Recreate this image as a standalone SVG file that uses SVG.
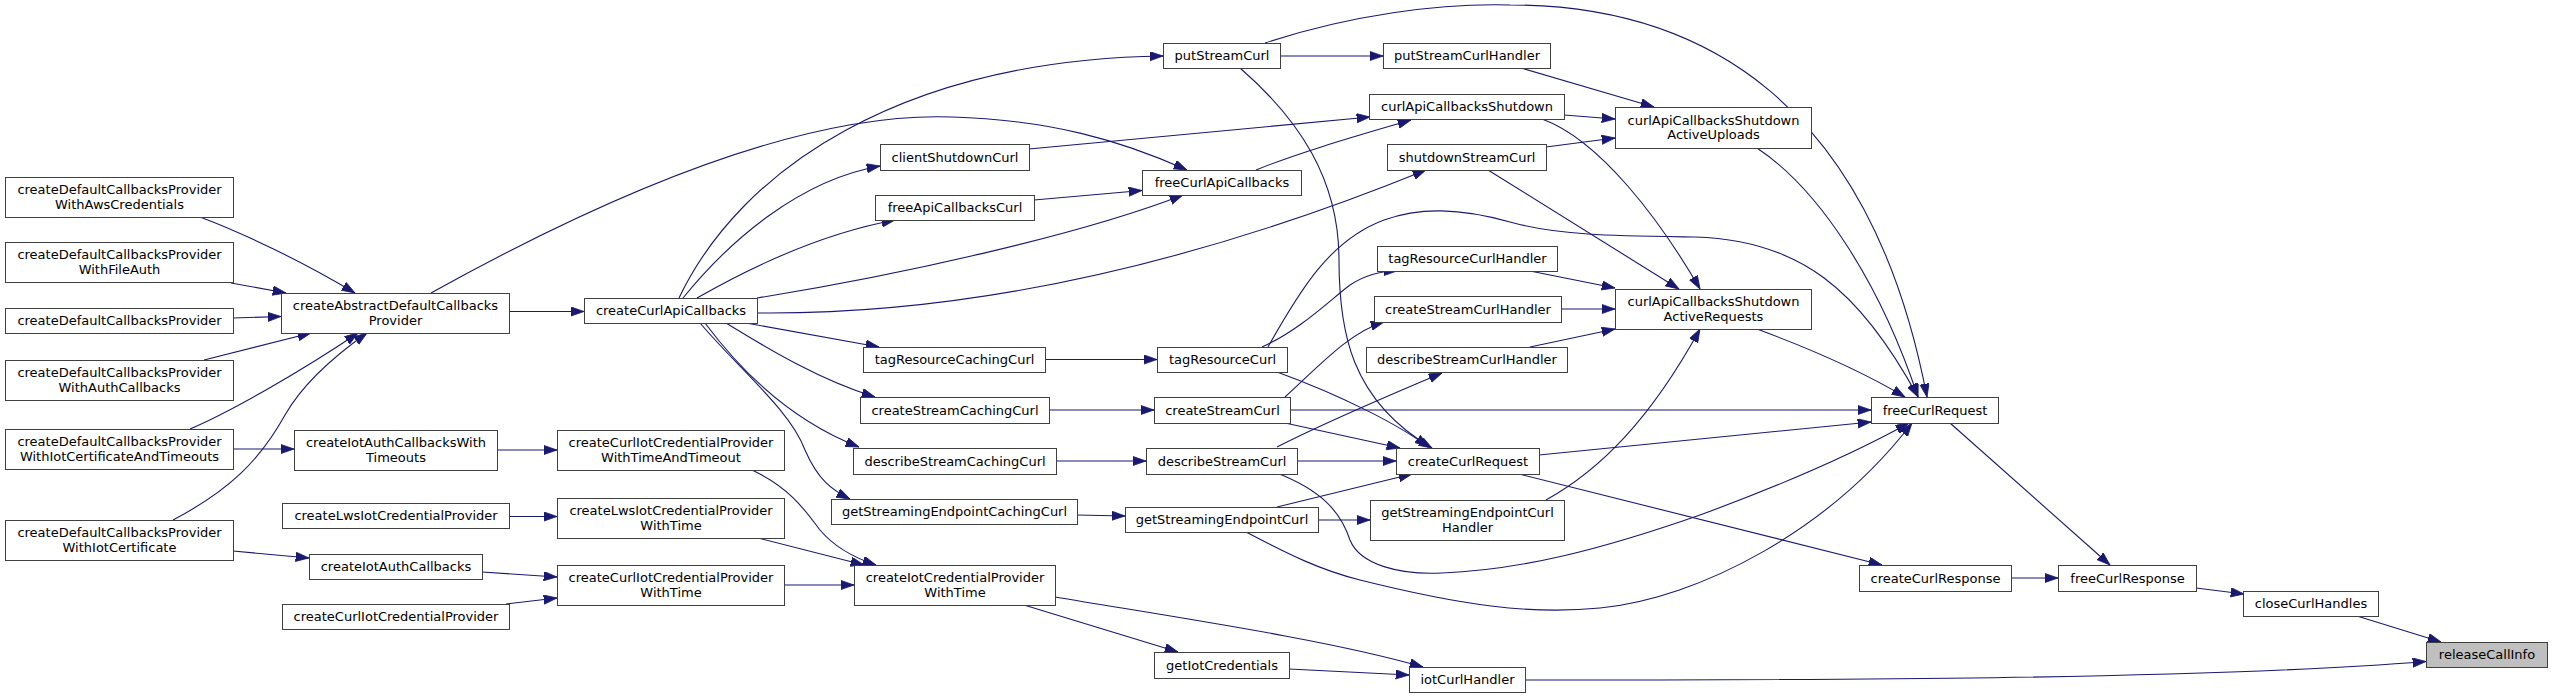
<svg xmlns="http://www.w3.org/2000/svg" width="2552" height="698" viewBox="0 0 2552 698">
<style>
rect.n{fill:#fff;stroke:#404040;stroke-width:1}
rect.f{fill:#bfbfbf;stroke:#404040;stroke-width:1}
text{font-family:"DejaVu Sans","Liberation Sans",sans-serif;font-size:13px;text-anchor:middle;fill:#000}
path.e{fill:none;stroke:#191970;stroke-width:1.1;marker-end:url(#a)}
</style>
<defs>
<marker id="a" markerUnits="userSpaceOnUse" markerWidth="14" markerHeight="10" refX="13.3" refY="4.65" orient="auto">
<path d="M0,0 L13.3,4.65 L0,9.3 Z" fill="#191970" stroke="#191970" stroke-width="0.8"/>
</marker>
</defs>
<rect width="2552" height="698" fill="#fff"/>
<g id="connectors">
<path class="e" d="M200,217 C240,232 300,260 355,293"/>
<path class="e" d="M231,283 L286,293"/>
<path class="e" d="M233,318 L281,316.5"/>
<path class="e" d="M204,360 L311,333"/>
<path class="e" d="M190,429 C230,412 300,372 358,333"/>
<path class="e" d="M173,520 C230,490 260,460 285,415 C305,380 340,352 367,333"/>
<path class="e" d="M233,449 L294,449"/>
<path class="e" d="M233,551 L309,558"/>
<path class="e" d="M509,311.5 L584,311.5"/>
<path class="e" d="M431,293 C530,238 770,110 952,117 C1050,120 1120,140 1187,170"/>
<path class="e" d="M497,450 L557,450"/>
<path class="e" d="M509,516.5 L557,516.5"/>
<path class="e" d="M482,572 L557,577"/>
<path class="e" d="M506,604 L557,598"/>
<path class="e" d="M752,470 C790,488 805,510 820,530 C835,548 855,558 876,565"/>
<path class="e" d="M758,538 L864,565"/>
<path class="e" d="M784,585 L854,585"/>
<path class="e" d="M1024,605 L1178,652"/>
<path class="e" d="M1055,597 C1180,618 1330,640 1423,667"/>
<path class="e" d="M1289,669 L1409,675"/>
<path class="e" d="M1525,680 C1800,680 2200,680 2426,661.5"/>
<path class="e" d="M679,298 C740,170 900,60 1163,56"/>
<path class="e" d="M683,298 C730,240 800,180 880,166"/>
<path class="e" d="M697,298 C760,262 830,232 895,220"/>
<path class="e" d="M757,298 C900,275 1080,235 1183,195"/>
<path class="e" d="M757,313 C960,315 1180,270 1426,170"/>
<path class="e" d="M746,323 L879,347"/>
<path class="e" d="M726,323 C770,350 820,380 875,397"/>
<path class="e" d="M705,323 C740,370 790,420 859,447"/>
<path class="e" d="M700,323 C740,370 790,410 805,450 C818,480 832,490 850,499"/>
<path class="e" d="M1029,149 L1370,117"/>
<path class="e" d="M1034,200 L1142,190.5"/>
<path class="e" d="M1256,170 C1300,152 1360,135 1411,120"/>
<path class="e" d="M1280,56 L1383,56"/>
<path class="e" d="M1265,43 C1350,15 1440,3 1510,5 C1700,5 1870,100 1927,397"/>
<path class="e" d="M1240,68 C1300,120 1339,180 1339,260 C1339,330 1350,400 1432,448"/>
<path class="e" d="M1521,68 L1654,107"/>
<path class="e" d="M1564,115 L1615,119"/>
<path class="e" d="M1542,119 C1600,140 1660,220 1700,289"/>
<path class="e" d="M1546,147 L1615,138"/>
<path class="e" d="M1488,170 L1679,289"/>
<path class="e" d="M1045,359.5 L1157,359.5"/>
<path class="e" d="M1049,410 L1154,410"/>
<path class="e" d="M1056,461 L1146,461"/>
<path class="e" d="M1077,515 L1125,516"/>
<path class="e" d="M1262,347 C1300,330 1330,300 1350,285 C1365,275 1380,271 1397,271"/>
<path class="e" d="M1277,372 C1340,395 1400,425 1428,447"/>
<path class="e" d="M1268,347 C1300,290 1330,240 1384,220 C1420,207 1460,208 1510,222 C1560,236 1620,236 1695,237 C1800,240 1860,290 1918,397"/>
<path class="e" d="M1285,397 C1320,365 1350,332 1384,322"/>
<path class="e" d="M1290,410 L1871,410"/>
<path class="e" d="M1285,423 L1400,448"/>
<path class="e" d="M1277,447 C1330,420 1390,395 1442,373"/>
<path class="e" d="M1297,461 L1396,461"/>
<path class="e" d="M1277,473 C1320,490 1340,510 1350,540 C1360,565 1400,575 1442,573 C1520,570 1600,550 1700,515 C1790,482 1860,450 1909,423"/>
<path class="e" d="M1318,520 L1370,520"/>
<path class="e" d="M1277,507 L1412,474"/>
<path class="e" d="M1246,532 C1290,555 1320,570 1360,580 C1460,605 1530,615 1600,608 C1700,598 1830,530 1912,423"/>
<path class="e" d="M1546,500 C1600,470 1650,420 1700,329"/>
<path class="e" d="M1530,271 L1615,288"/>
<path class="e" d="M1561,309 L1615,309"/>
<path class="e" d="M1530,347 L1615,329"/>
<path class="e" d="M1539,455 L1871,422"/>
<path class="e" d="M1519,474 L1882,565"/>
<path class="e" d="M1757,148 C1820,190 1880,283 1918,397"/>
<path class="e" d="M1757,329 C1800,345 1860,370 1905,397"/>
<path class="e" d="M1950,423 L2110,565"/>
<path class="e" d="M2011,578 L2058,578"/>
<path class="e" d="M2196,588 L2244,594"/>
<path class="e" d="M2357,616 L2441,642"/>
</g>
<g id="n_aws"><rect class="n" x="5.5" y="177.5" width="228" height="40"/><text x="119.5" y="194.3">createDefaultCallbacksProvider</text><text x="119.5" y="208.8">WithAwsCredentials</text></g>
<g id="n_file"><rect class="n" x="5.5" y="242.5" width="228" height="40"/><text x="119.5" y="259.3">createDefaultCallbacksProvider</text><text x="119.5" y="273.8">WithFileAuth</text></g>
<g id="n_def"><rect class="n" x="5.5" y="308.5" width="228" height="25"/><text x="119.5" y="325">createDefaultCallbacksProvider</text></g>
<g id="n_authcb"><rect class="n" x="5.5" y="360.5" width="228" height="40"/><text x="119.5" y="377.3">createDefaultCallbacksProvider</text><text x="119.5" y="391.8">WithAuthCallbacks</text></g>
<g id="n_iotcertto"><rect class="n" x="5.5" y="429.5" width="228" height="40"/><text x="119.5" y="446.3">createDefaultCallbacksProvider</text><text x="119.5" y="460.8">WithIotCertificateAndTimeouts</text></g>
<g id="n_iotcert"><rect class="n" x="5.5" y="520.5" width="228" height="40"/><text x="119.5" y="537.3">createDefaultCallbacksProvider</text><text x="119.5" y="551.8">WithIotCertificate</text></g>
<g id="n_abs"><rect class="n" x="281.5" y="293.5" width="228" height="40"/><text x="395.5" y="310.3">createAbstractDefaultCallbacks</text><text x="395.5" y="324.8">Provider</text></g>
<g id="n_iotauthto"><rect class="n" x="294.5" y="430.5" width="203" height="40"/><text x="396" y="447.3">createIotAuthCallbacksWith</text><text x="396" y="461.8">Timeouts</text></g>
<g id="n_lwsicp"><rect class="n" x="282.5" y="503.5" width="227" height="25"/><text x="396" y="520">createLwsIotCredentialProvider</text></g>
<g id="n_iotauth"><rect class="n" x="309.5" y="554.5" width="173" height="25"/><text x="396" y="571">createIotAuthCallbacks</text></g>
<g id="n_curlicp"><rect class="n" x="282.5" y="604.5" width="227" height="25"/><text x="396" y="621">createCurlIotCredentialProvider</text></g>
<g id="n_ccapi"><rect class="n" x="584.5" y="298.5" width="173" height="25"/><text x="671" y="315">createCurlApiCallbacks</text></g>
<g id="n_curlwtt"><rect class="n" x="557.5" y="430.5" width="227" height="40"/><text x="671" y="447.3">createCurlIotCredentialProvider</text><text x="671" y="461.8">WithTimeAndTimeout</text></g>
<g id="n_lwswt"><rect class="n" x="557.5" y="498.5" width="227" height="40"/><text x="671" y="515.3">createLwsIotCredentialProvider</text><text x="671" y="529.8">WithTime</text></g>
<g id="n_curlwt"><rect class="n" x="557.5" y="565.5" width="227" height="40"/><text x="671" y="582.3">createCurlIotCredentialProvider</text><text x="671" y="596.8">WithTime</text></g>
<g id="n_putsc"><rect class="n" x="1163.5" y="43.5" width="117" height="25"/><text x="1222" y="60">putStreamCurl</text></g>
<g id="n_clientsd"><rect class="n" x="880.5" y="144.5" width="149" height="26"/><text x="955" y="161.5">clientShutdownCurl</text></g>
<g id="n_freeapi"><rect class="n" x="875.5" y="195.5" width="159" height="25"/><text x="955" y="212">freeApiCallbacksCurl</text></g>
<g id="n_freecurlapi"><rect class="n" x="1142.5" y="170.5" width="159" height="25"/><text x="1222" y="187">freeCurlApiCallbacks</text></g>
<g id="n_tagrcc"><rect class="n" x="863.5" y="347.5" width="182" height="25"/><text x="954.5" y="364">tagResourceCachingCurl</text></g>
<g id="n_cscc"><rect class="n" x="860.5" y="397.5" width="189" height="26"/><text x="955" y="414.5">createStreamCachingCurl</text></g>
<g id="n_dscc"><rect class="n" x="853.5" y="448.5" width="203" height="26"/><text x="955" y="465.5">describeStreamCachingCurl</text></g>
<g id="n_gsecc"><rect class="n" x="831.5" y="499.5" width="246" height="25"/><text x="954.5" y="516">getStreamingEndpointCachingCurl</text></g>
<g id="n_icpwt"><rect class="n" x="854.5" y="565.5" width="201" height="40"/><text x="955" y="582.3">createIotCredentialProvider</text><text x="955" y="596.8">WithTime</text></g>
<g id="n_getiot"><rect class="n" x="1154.5" y="652.5" width="135" height="26"/><text x="1222" y="669.5">getIotCredentials</text></g>
<g id="n_tagrc"><rect class="n" x="1157.5" y="347.5" width="130" height="25"/><text x="1222.5" y="364">tagResourceCurl</text></g>
<g id="n_csc"><rect class="n" x="1154.5" y="397.5" width="136" height="26"/><text x="1222.5" y="414.5">createStreamCurl</text></g>
<g id="n_dsc"><rect class="n" x="1146.5" y="448.5" width="151" height="26"/><text x="1222" y="465.5">describeStreamCurl</text></g>
<g id="n_gsec"><rect class="n" x="1125.5" y="507.5" width="193" height="25"/><text x="1222" y="524">getStreamingEndpointCurl</text></g>
<g id="n_putsch"><rect class="n" x="1383.5" y="43.5" width="167" height="25"/><text x="1467" y="60">putStreamCurlHandler</text></g>
<g id="n_cacs"><rect class="n" x="1369.5" y="94.5" width="195" height="25"/><text x="1467" y="111">curlApiCallbacksShutdown</text></g>
<g id="n_activeup"><rect class="n" x="1615.5" y="107.5" width="196" height="41"/><text x="1713.5" y="124.8">curlApiCallbacksShutdown</text><text x="1713.5" y="139.3">ActiveUploads</text></g>
<g id="n_shutsc"><rect class="n" x="1387.5" y="144.5" width="159" height="26"/><text x="1467" y="161.5">shutdownStreamCurl</text></g>
<g id="n_tagrch"><rect class="n" x="1377.5" y="246.5" width="180" height="25"/><text x="1467.5" y="263">tagResourceCurlHandler</text></g>
<g id="n_csch"><rect class="n" x="1374.5" y="296.5" width="187" height="26"/><text x="1468" y="313.5">createStreamCurlHandler</text></g>
<g id="n_activereq"><rect class="n" x="1615.5" y="289.5" width="196" height="40"/><text x="1713.5" y="306.3">curlApiCallbacksShutdown</text><text x="1713.5" y="320.8">ActiveRequests</text></g>
<g id="n_dsch"><rect class="n" x="1366.5" y="347.5" width="201" height="25"/><text x="1467" y="364">describeStreamCurlHandler</text></g>
<g id="n_ccr"><rect class="n" x="1396.5" y="448.5" width="143" height="26"/><text x="1468" y="465.5">createCurlRequest</text></g>
<g id="n_gsech"><rect class="n" x="1370.5" y="500.5" width="194" height="40"/><text x="1467.5" y="517.3">getStreamingEndpointCurl</text><text x="1467.5" y="531.8">Handler</text></g>
<g id="n_iotch"><rect class="n" x="1409.5" y="667.5" width="116" height="25"/><text x="1467.5" y="684">iotCurlHandler</text></g>
<g id="n_fcr"><rect class="n" x="1871.5" y="397.5" width="127" height="26"/><text x="1935" y="414.5">freeCurlRequest</text></g>
<g id="n_ccresp"><rect class="n" x="1859.5" y="565.5" width="152" height="26"/><text x="1935.5" y="582.5">createCurlResponse</text></g>
<g id="n_fcresp"><rect class="n" x="2058.5" y="565.5" width="138" height="26"/><text x="2127.5" y="582.5">freeCurlResponse</text></g>
<g id="n_cch"><rect class="n" x="2243.5" y="591.5" width="135" height="25"/><text x="2311" y="608">closeCurlHandles</text></g>
<g id="n_rci"><rect class="f" x="2426.5" y="642.5" width="121" height="25"/><text x="2487" y="659">releaseCallInfo</text></g>
</svg>
